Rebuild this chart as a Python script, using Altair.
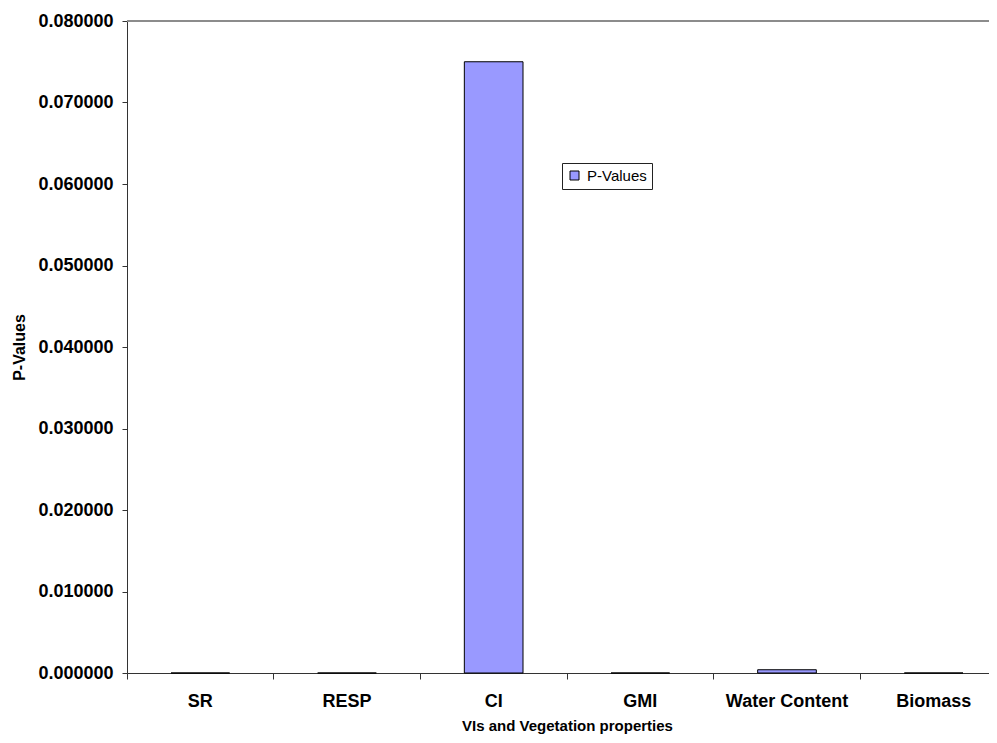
import altair as alt
import pandas as pd

categories = ["SR", "RESP", "CI", "GMI", "Water Content", "Biomass"]
p_values = [0.0, 0.0, 0.075, 0.0, 0.0004, 0.0]
series_name = "P-Values"
y_ticks = [0.0, 0.01, 0.02, 0.03, 0.04, 0.05, 0.06, 0.07, 0.08]

df = pd.DataFrame({"cat": categories, "val": p_values, "series": [series_name] * len(categories)})

FONT = "Liberation Sans"

x_enc = alt.X(
    "cat:N",
    sort=categories,
    scale=alt.Scale(range=[0, 880], paddingInner=0, paddingOuter=0),
    axis=alt.Axis(
        title="VIs and Vegetation properties",
        bandPosition=0,
        labelAngle=0,
        labelFont=FONT,
        labelFontSize=18,
        labelFontWeight="bold",
        labelColor="#000",
        labelPadding=13,
        tickSize=6,
        tickColor="#333",
        domainColor="#333",
        titleFont=FONT,
        titleFontSize=15,
        titleFontWeight="bold",
        titleColor="#000",
        titleX=440,
        titleY=52,
        titleAlign="center",
        titleBaseline="middle",
        grid=False,
        labelOverlap=False,
        labelBound=False,
    ),
)

y_scale = alt.Scale(domain=[0, 0.08], nice=False)

y_enc = alt.Y(
    "val:Q",
    scale=y_scale,
    axis=alt.Axis(
        title="P-Values",
        values=y_ticks,
        format=".6f",
        labelFont=FONT,
        labelFontSize=18,
        labelFontWeight="bold",
        labelColor="#000",
        labelPadding=9,
        tickSize=5,
        tickColor="#333",
        domainColor="#333",
        titleFont=FONT,
        titleFontSize=16,
        titleFontWeight="bold",
        titleColor="#000",
        titleAngle=270,
        titleX=-108,
        titleY=326,
        titleAlign="center",
        titleBaseline="middle",
        grid=False,
    ),
)

bars = alt.Chart(df).mark_bar(
    width=alt.RelativeBandSize(0.4), stroke="#000", strokeWidth=1
).encode(
    x=x_enc,
    y=y_enc,
    color=alt.Color(
        "series:N",
        scale=alt.Scale(range=["#9999FF"]),
        legend=alt.Legend(
            title=None,
            orient="none",
            legendX=435,
            legendY=142,
            direction="vertical",
            symbolType="square",
            symbolSize=81,
            symbolStrokeColor="#000",
            symbolStrokeWidth=1,
            labelFont=FONT,
            labelFontSize=15,
            labelColor="#000",
            labelOffset=5,
            strokeColor="#222",
            padding=5,
            cornerRadius=0,
        ),
    ),
)

top_line = alt.Chart(df).mark_rule(color="#8c8c8c", strokeWidth=1.6).encode(
    y=alt.datum(y_ticks[-1])
)

chart = alt.layer(bars, top_line).properties(
    width=862,
    height=652,
    autosize=alt.AutoSizeParams(type="none"),
    padding={"left": 119, "top": 13, "right": 0, "bottom": 62},
).configure_view(stroke=None).configure(background="white")

chart.save("out.html", embed_options={"renderer": "svg", "actions": False})
